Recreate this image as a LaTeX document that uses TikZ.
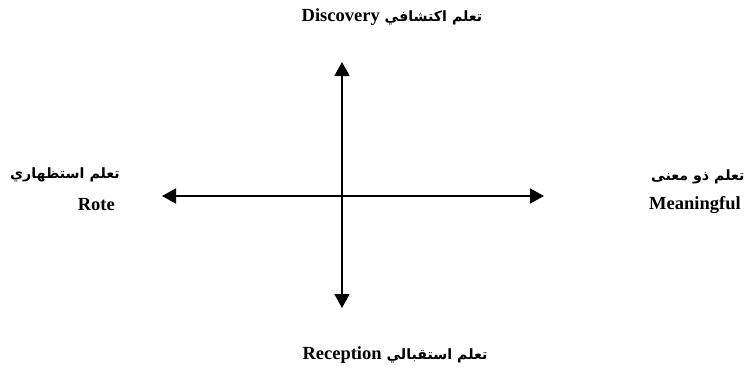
\documentclass[tikz,border=0pt]{standalone}
\usepackage{fontspec}
\setmainfont{Liberation Serif}
\newfontfamily\arabicfont[Script=Arabic]{DejaVu Sans}
\TeXXeTstate=1
\usetikzlibrary{arrows.meta}
\begin{document}
\begin{tikzpicture}[
    x=1pt, y=-1pt,
    axis/.style={{Triangle[length=14pt,width=15pt]}-{Triangle[length=14pt,width=15pt]}, line width=1.6pt},
    lbl/.style={inner sep=0pt, font=\fontsize{18.5}{22}\selectfont\bfseries},
    arlbl/.style={inner sep=0pt, font=\fontsize{14.2}{18}\selectfont\arabicfont\bfseries}
  ]
    \useasboundingbox (0,0) rectangle (754,373);
    % axis ends
    \coordinate (top) at (342,62);
    \coordinate (bottom) at (342,308);
    \coordinate (west) at (162,196);
    \coordinate (east) at (544,196);
    \draw[axis] (bottom) -- (top);
    \draw[axis] (west) -- (east);
    % labels
    \node[arlbl] (disc) at (392,17) {\beginR تعلم اكتشافي \beginL{\rmfamily\fontsize{18.5}{22}\selectfont\bfseries Discovery}\endL\endR};
    \node[arlbl] (recep) at (395,355) {\beginR تعلم استقبالي \beginL{\rmfamily\fontsize{18.5}{22}\selectfont\bfseries Reception}\endL\endR};
    \node[arlbl, anchor=east] (roteAr) at (120,175) {\beginR تعلم استظهاري\endR};
    \node[lbl, anchor=east] (rote) at (115,205) {Rote};
    \node[arlbl, anchor=west] (meanAr) at (651,177) {\beginR تعلم ذو معنى\endR};
    \node[lbl, anchor=west] (mean) at (649,205) {Meaningful};
\end{tikzpicture}
\end{document}
